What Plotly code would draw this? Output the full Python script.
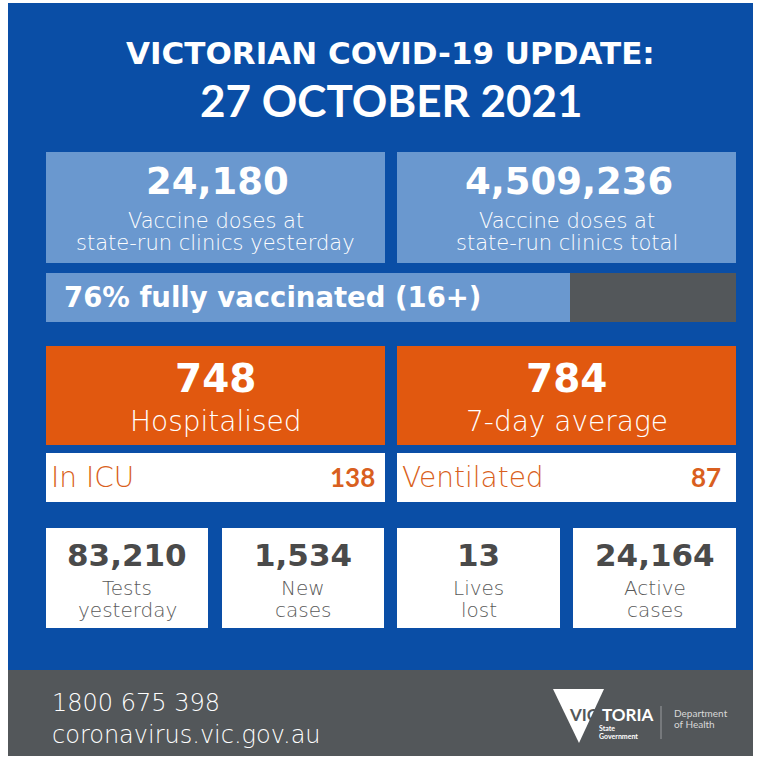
import plotly.graph_objects as go

# ---------------- data ----------------
title_lines = ["VICTORIAN COVID-19 UPDATE:", "27 OCTOBER 2021"]
vaccine_values = ["24,180", "4,509,236"]
vaccine_labels = [["Vaccine doses at", "state-run clinics yesterday"],
                  ["Vaccine doses at", "state-run clinics total"]]
vaccinated_label = "76% fully vaccinated (16+)"
vaccinated_pct = [76]
remaining_pct = [24]
hospital_values = ["748", "784"]
hospital_labels = ["Hospitalised", "7-day average"]
sub_labels = ["In ICU", "Ventilated"]
sub_values = ["138", "87"]
stat_values = ["83,210", "1,534", "13", "24,164"]
stat_labels = [["Tests", "yesterday"], ["New", "cases"], ["Lives", "lost"], ["Active", "cases"]]
footer_lines = ["1800 675 398", "coronavirus.vic.gov.au"]
logo_texts = ["VIC", "TORIA", "State", "Government", "Department", "of Health"]

# ---------------- styles ----------------
W, H = 761, 762
BLUE = "#0a4ea6"
LIGHT = "#6a98cf"
GRAY = "#53575a"
ORANGE = "#e1580f"
ORANGE_TXT = "#d95f20"
DARK = "#4a4a4a"
MID = "#5a5a5a"
WIDE = "DejaVu Sans"
NARROW = "Lato"

fig = go.Figure()
fig.add_trace(go.Scatter(x=[], y=[], xaxis="x", yaxis="y", showlegend=False))

# progress bar via stacked horizontal bars
fig.add_trace(go.Bar(y=[0], x=vaccinated_pct, orientation="h", marker=dict(color=LIGHT, line=dict(width=0)),
                     width=1, xaxis="x2", yaxis="y2", showlegend=False, hoverinfo="skip"))
fig.add_trace(go.Bar(y=[0], x=remaining_pct, orientation="h", marker=dict(color=GRAY, line=dict(width=0)),
                     width=1, xaxis="x2", yaxis="y2", showlegend=False, hoverinfo="skip"))

shapes = []
def rect(x0, y0, x1, y1, color, layer="below"):
    shapes.append(dict(type="rect", xref="x", yref="y", x0=x0, y0=y0, x1=x1, y1=y1,
                       fillcolor=color, line=dict(width=0), layer=layer))

rect(8, 3, 753, 671, BLUE)
rect(8, 670, 753, 756, GRAY)

annotations = []
def txt(x, y, s, size, color, family=WIDE, bold=False, anchor="center", weight=None):
    f = dict(size=size, color=color, family=family)
    if weight is not None:
        f["weight"] = weight
    annotations.append(dict(x=x, y=y, xref="x", yref="y", text=("<b>%s</b>" % s) if bold else s,
                            showarrow=False, xanchor=anchor, yanchor="middle", font=f))

# title
txt(390, 53, title_lines[0], 31, "white", bold=True)
txt(391, 100, title_lines[1], 44, "white", family=NARROW, bold=True)

# top vaccine boxes
boxes_top = [(46, 385), (397, 736)]
for (x0, x1), v, lab in zip(boxes_top, vaccine_values, vaccine_labels):
    rect(x0, 152, x1, 263, LIGHT)
    cx = (x0 + x1) / 2
    txt(cx + 2, 181, v, 37, "white", bold=True)
    txt(cx, 221, lab[0], 21, "white", weight=200)
    txt(cx, 243, lab[1], 21, "white", weight=200)

txt(62, 297, vaccinated_label, 27.5, "white", bold=True, anchor="left")

# hospital boxes
for (x0, x1), v, lab, sl, sv in zip(boxes_top, hospital_values, hospital_labels, sub_labels, sub_values):
    rect(x0, 346, x1, 445, ORANGE)
    rect(x0, 453, x1, 502, "white")
    cx = (x0 + x1) / 2
    txt(cx, 378, v, 39, "white", bold=True)
    txt(cx, 421, lab, 28, "white", weight=200)
    txt(x0 + 3, 477, sl, 28, ORANGE_TXT, weight=200, anchor="left")
txt(boxes_top[0][1] - 8, 477, "<b>%s</b>" % sub_values[0], 26, ORANGE_TXT, family=NARROW, anchor="right")
txt(boxes_top[1][1] - 13, 477, "<b>%s</b>" % sub_values[1], 26, ORANGE_TXT, family=NARROW, anchor="right")

# bottom stats
boxes_bot = [(46, 208), (222, 384), (397, 560), (573, 736)]
for (x0, x1), v, lab in zip(boxes_bot, stat_values, stat_labels):
    rect(x0, 528, x1, 628, "white")
    cx = (x0 + x1) / 2
    txt(cx, 555, v, 31, DARK, bold=True)
    txt(cx, 588, lab[0], 20, MID, weight=200)
    txt(cx, 610, lab[1], 20, MID, weight=200)

# footer
txt(50, 703, footer_lines[0], 24, "white", weight=200, anchor="left")
txt(50, 735, footer_lines[1], 24, "white", weight=200, anchor="left")

# logo
shapes.append(dict(type="path", xref="x", yref="y", path="M 553 689 L 604 689 L 579 743 Z",
                   fillcolor="white", line=dict(width=0), layer="above"))
txt(601, 714, "<b>%s</b>" % logo_texts[0], 17, GRAY, family=NARROW, anchor="right")
txt(600, 714, "<b>%s</b>" % logo_texts[1], 17, "white", family=NARROW, anchor="left")
txt(597, 728, logo_texts[2], 7, "white", family=NARROW, bold=True, anchor="left")
txt(597, 736, logo_texts[3], 7, "white", family=NARROW, bold=True, anchor="left")
shapes.append(dict(type="line", xref="x", yref="y", x0=661, x1=661, y0=706, y1=739,
                   line=dict(color="#9a9c9e", width=1), layer="above"))
txt(672, 713, logo_texts[4], 10, "#d8d8d8", family=NARROW, anchor="left")
txt(672, 724, logo_texts[5], 10, "#d8d8d8", family=NARROW, anchor="left")

fig.update_layout(
    width=W, height=H, margin=dict(l=0, r=0, t=0, b=0, pad=0),
    paper_bgcolor="white", plot_bgcolor="rgba(0,0,0,0)",
    xaxis=dict(range=[0, W], domain=[0, 1], visible=False, fixedrange=True),
    yaxis=dict(range=[H, 0], domain=[0, 1], visible=False, fixedrange=True),
    xaxis2=dict(range=[0, 100], domain=[46 / W, 736 / W], visible=False, anchor="y2", fixedrange=True),
    yaxis2=dict(range=[-0.5, 0.5], domain=[(H - 322) / H, (H - 273) / H], visible=False, anchor="x2",
                fixedrange=True),
    barmode="stack", bargap=0,
    shapes=shapes, annotations=annotations, showlegend=False,
)

fig.write_html("out.html", config={"displayModeBar": False},
               post_script="document.body.style.margin='0';document.body.style.overflow='hidden';")
